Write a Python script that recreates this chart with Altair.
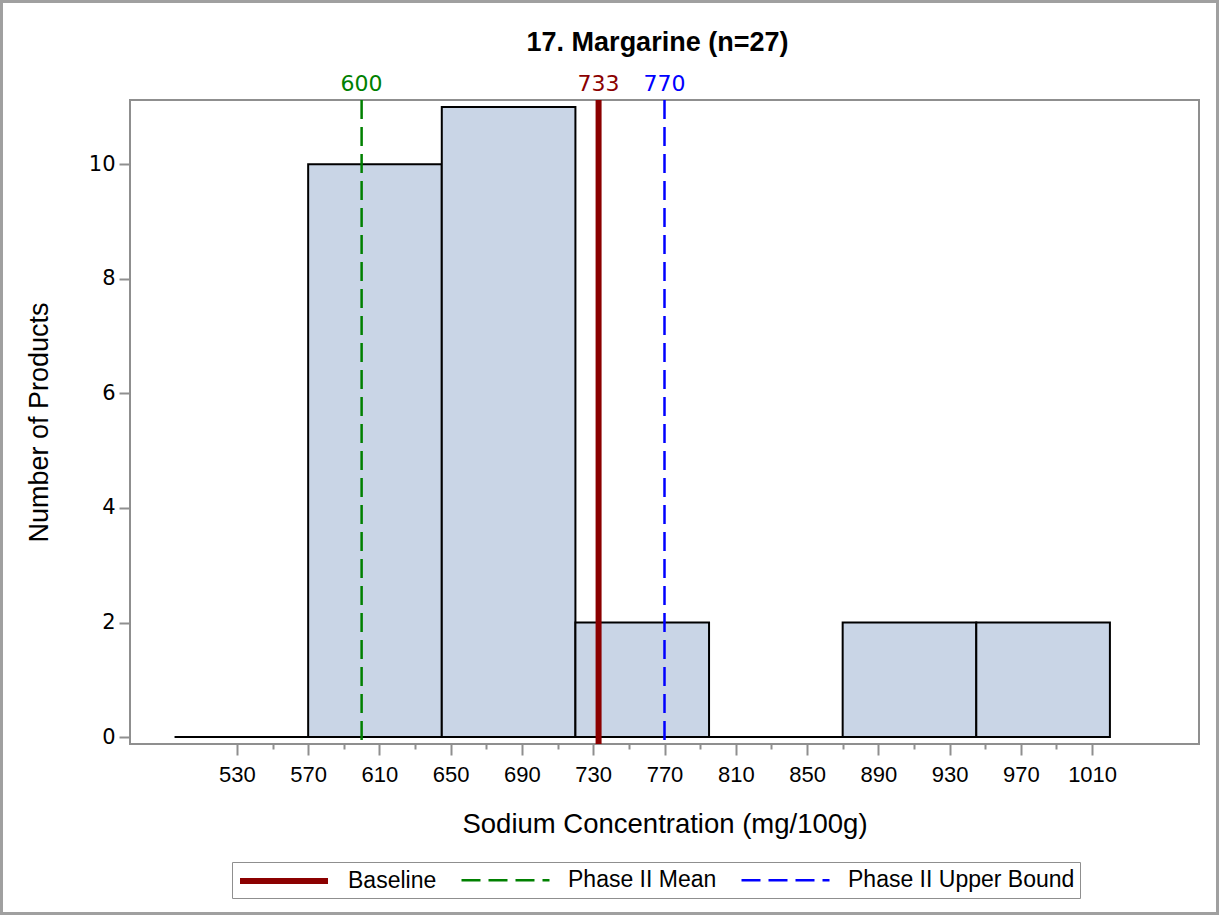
import altair as alt
import pandas as pd

# Histogram bins (mg/100g) and counts
bin_start = [495, 570, 645, 720, 795, 870, 945]
bin_end = [570, 645, 720, 795, 870, 945, 1020]
counts = [0, 10, 11, 2, 0, 2, 2]

# Reference lines
ref_names = ["Baseline", "Phase II Mean", "Phase II Upper Bound"]
ref_values = [733, 600, 770]
ref_colors = ["#8b0000", "#008000", "#0000ff"]
ref_widths = [6, 2.5, 2.5]

# Axis tick values
x_tick_values = [530, 550, 570, 590, 610, 630, 650, 670, 690, 710, 730, 750, 770,
                 790, 810, 830, 850, 870, 890, 910, 930, 950, 970, 990, 1010]
y_tick_values = [0, 2, 4, 6, 8, 10]

hist = pd.DataFrame({"start": bin_start, "end": bin_end, "count": counts})
refs = pd.DataFrame({"name": ref_names, "value": ref_values, "tcolor": ref_colors})

AX_GRAY = "#8f8f8f"

xscale = alt.Scale(domain=[470, 1070], nice=False, zero=False)
yscale = alt.Scale(domain=[-0.12, 11.12], nice=False, zero=False)

bars = alt.Chart(hist).mark_bar(fill="#c9d5e6", stroke="black", strokeWidth=2).encode(
    x=alt.X("start:Q", scale=xscale, title="Sodium Concentration (mg/100g)",
            axis=alt.Axis(values=x_tick_values, format="d",
                          labelExpr="datum.value % 40 == 10 ? datum.label : ''",
                          tickSize={"condition": {"test": "datum.value % 40 == 10", "value": 11}, "value": 5},
                          tickColor=AX_GRAY, tickWidth=2, domain=False, grid=False,
                          labelFont="Liberation Sans", labelFontSize=22, labelColor="black",
                          labelPadding=9, titleFont="Liberation Sans", titleFontSize=27.5,
                          titleFontWeight="normal", titleColor="black", titlePadding=25)),
    x2="end:Q",
    y=alt.Y("count:Q", scale=yscale, title="Number of Products",
            axis=alt.Axis(values=y_tick_values, tickSize=11, tickColor=AX_GRAY, tickWidth=2,
                          domain=False, grid=False, labelFont="DejaVu Sans", labelFontSize=21,
                          labelColor="black", labelPadding=4, titleFont="Liberation Sans",
                          titleFontSize=27, titleFontWeight="normal", titleColor="black",
                          titlePadding=35)),
    y2=alt.datum(0),
)

leg = alt.Legend(title=None, orient="none", legendX=102, legendY=762, direction="horizontal",
                 symbolType="M-4,0H4", symbolSize=484, symbolOffset=33,
                 labelFont="Liberation Sans", labelFontSize=23, labelColor="black",
                 labelOffset=50, labelLimit=400, columnPadding=19, padding=5,
                 strokeColor=AX_GRAY, fillColor="white")

rules = alt.Chart(refs).mark_rule().encode(
    x=alt.X("value:Q", scale=xscale),
    color=alt.Color("name:N", scale=alt.Scale(domain=ref_names, range=ref_colors), legend=leg),
    strokeDash=alt.StrokeDash("name:N", scale=alt.Scale(domain=ref_names, range=[[1, 0], [19, 8], [19, 8]]), legend=leg),
    strokeWidth=alt.StrokeWidth("name:N", scale=alt.Scale(type="ordinal", domain=ref_names, range=ref_widths), legend=leg),
)

labels = alt.Chart(refs).mark_text(font="DejaVu Sans", fontSize=22, baseline="middle", align="center").encode(
    x=alt.X("value:Q", scale=xscale),
    y=alt.value(-16),
    text=alt.Text("value:Q"),
    color=alt.Color("tcolor:N", scale=None),
)

border = alt.Chart(alt.Data(values=[{"a": 1}])).mark_rect(fill="transparent", stroke="#a0a0a0", strokeWidth=3).encode(
    x=alt.value(-128.5), x2=alt.value(1087.5), y=alt.value(-98.5), y2=alt.value(813.5)
)

chart = alt.layer(border, bars, rules, labels).properties(
    width=1069, height=644,
    autosize=alt.AutoSizeParams(type="none"),
    padding={"left": 130, "top": 100, "right": 21, "bottom": 172},
    title=alt.TitleParams("17. Margarine (n=27)", font="Liberation Sans", fontSize=27,
                          fontWeight="bold", color="black", anchor="middle", offset=-57, dx=-7),
).configure(background="white", view=alt.ViewConfig(stroke=AX_GRAY, strokeWidth=2))

chart.save("out.html", embed_options={"renderer": "svg", "actions": False})
